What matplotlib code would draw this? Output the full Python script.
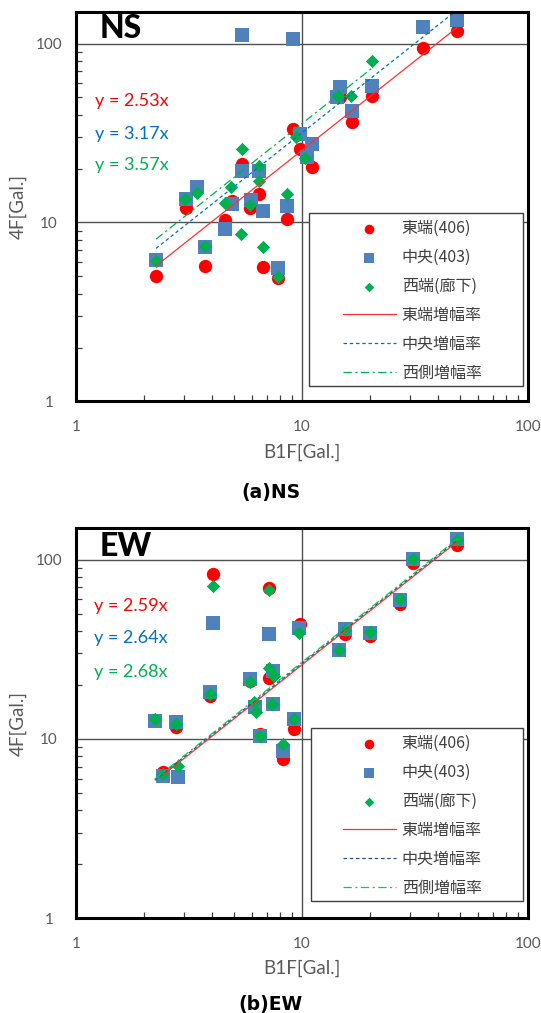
import matplotlib
matplotlib.use('Agg')
import matplotlib.pyplot as plt
from matplotlib.ticker import FixedLocator, FixedFormatter, NullFormatter
from matplotlib.patches import Rectangle
import numpy as np

plt.rcParams['lines.scale_dashes'] = False

# ---------------- data: NS ----------------
ns_east_x = [2.26, 3.07, 3.72, 4.56, 4.89, 5.41, 5.89, 6.47, 6.70, 7.8, 8.55, 9.15, 9.8, 11.1, 14.7, 16.6, 20.5, 34.2, 48.4]
ns_east_y = [5.04, 12.1, 5.73, 10.3, 13.2, 21.2, 12.1, 14.4, 5.64, 4.89, 10.5, 33.3, 25.7, 20.3, 50.2, 36.6, 50.8, 94.6, 117]
ns_cent_x = [2.26, 3.07, 3.44, 3.72, 4.56, 4.89, 5.41, 5.44, 5.95, 6.43, 6.74, 7.8, 8.55, 9.1, 9.8, 10.5, 11.1, 14.3, 14.7, 16.6, 20.5, 34.2, 48.4]
ns_cent_y = [6.2, 13.6, 15.7, 7.27, 9.25, 12.7, 112, 19.4, 13.3, 19.4, 11.6, 5.57, 12.3, 106, 31.2, 23.2, 27.4, 50, 57.1, 42.2, 57.9, 124, 135]
ns_west_x = [2.26, 3.04, 3.42, 3.72, 4.56, 4.85, 5.37, 5.44, 5.89, 6.43, 6.43, 6.7, 7.8, 8.55, 9.45, 10.3, 14.5, 16.5, 20.5]
ns_west_y = [6.1, 13.6, 14.7, 7.42, 12.9, 15.8, 8.67, 25.7, 12.5, 17.1, 20.7, 7.27, 4.95, 14.5, 29.9, 22.8, 50.8, 50.8, 80]
ns_slopes = [2.53, 3.17, 3.57]

# ---------------- data: EW ----------------
ew_east_x = [2.43, 2.8, 2.77, 3.91, 4.03, 5.89, 6.52, 7.16, 7.14, 8.27, 9.22, 9.8, 15.5, 19.9, 27.2, 31.1, 48.7]
ew_east_y = [6.53, 6.2, 11.6, 17.4, 82.6, 21.1, 10.7, 22.0, 69.5, 7.74, 11.4, 43.5, 38.3, 37.5, 56.2, 95.7, 121]
ew_cent_x = [2.23, 2.43, 2.77, 2.84, 3.91, 4.03, 5.89, 6.2, 6.52, 7.14, 7.42, 7.46, 8.27, 9.22, 9.73, 14.6, 15.5, 19.9, 27.2, 31.1, 48.7]
ew_cent_y = [12.6, 6.25, 12.4, 6.12, 18.2, 44.4, 21.5, 15.0, 10.4, 38.3, 15.6, 23.9, 8.6, 12.9, 41.7, 31.3, 40.8, 39.1, 59.9, 101, 130]
ew_west_x = [2.23, 2.43, 2.77, 2.84, 3.91, 4.03, 5.89, 6.15, 6.26, 6.52, 7.14, 7.14, 7.4, 7.52, 8.27, 9.22, 9.73, 14.6, 15.5, 19.9, 27.2, 31.1, 48.7]
ew_west_y = [12.9, 6.35, 12.1, 7.11, 17.8, 71.1, 20.8, 16.0, 14.2, 10.4, 67.5, 25.0, 15.7, 22.5, 9.38, 12.9, 39.1, 31.3, 40.6, 39.5, 60.5, 101, 128]
ew_slopes = [2.59, 2.64, 2.68]

series_labels = ['東端(406)', '中央(403)', '西端(廊下)']
line_labels = ['東端増幅率', '中央増幅率', '西側増幅率']
tick_vals = [1, 10, 100]
tick_text = ['1', '10', '100']

RED = '#FF0000'
BLUE = '#4F81BD'
GREEN = '#00B050'
EQ_COLORS = ['#FF0000', '#0070C0', '#00B050']
GRAY = '#595959'

W, H = 541, 1013
fig = plt.figure(figsize=(W / 100, H / 100), dpi=100)


def px_axes(l, t, r, b):
    return [l / W, 1 - b / H, (r - l) / W, (b - t) / H]


def panel(ax, ex, ey, cx, cy, wx, wy, slopes, title, line_colors, eq_y, eq_x,
          title_y, frame, leg_anchor):
    ax.set_xscale('log')
    ax.set_yscale('log')
    ax.set_xlim(1, 100)
    ax.set_ylim(1, 150)

    ax.scatter(ex, ey, s=9.6 ** 2, marker='o', color=RED, linewidths=0, zorder=3, label=series_labels[0])
    ax.scatter(cx, cy, s=10.5 ** 2, marker='s', color=BLUE, linewidths=0, zorder=3.1, label=series_labels[1])
    ax.scatter(wx, wy, s=6.8 ** 2, marker='D', color=GREEN, linewidths=0, zorder=3.2, label=series_labels[2])

    styles = ['-', (0, (2.5, 2.0)), (0, (6, 2.5, 1.5, 2.5))]
    xs = [ex, cx, wx]
    for i, k in enumerate(slopes):
        xr = np.array([min(xs[i]), max(xs[i])])
        ax.plot(xr, k * xr, color=line_colors[i], lw=0.9, ls=styles[i], zorder=4,
                label=line_labels[i])

    for i, k in enumerate(slopes):
        ax.text(eq_x, eq_y[i], f'y = {k:.2f}x', transform=ax.transAxes, color=EQ_COLORS[i],
                fontsize=13, family='Lato', va='center', ha='left')

    ax.text(0.053, title_y, title, transform=ax.transAxes, fontsize=23, family='Lato',
            fontweight='black', va='top', ha='left', color='black')

    ax.xaxis.set_major_locator(FixedLocator(tick_vals))
    ax.xaxis.set_major_formatter(FixedFormatter(tick_text))
    ax.yaxis.set_major_locator(FixedLocator(tick_vals))
    ax.yaxis.set_major_formatter(FixedFormatter(tick_text))
    minors = [m * 10 ** d for d in range(0, 3) for m in range(2, 10)]
    ax.xaxis.set_minor_locator(FixedLocator(minors))
    ax.yaxis.set_minor_locator(FixedLocator(minors))
    ax.xaxis.set_minor_formatter(NullFormatter())
    ax.yaxis.set_minor_formatter(NullFormatter())
    ax.tick_params(which='major', length=0, labelsize=11, labelcolor=GRAY)
    ax.tick_params(axis='x', which='major', pad=13.5)
    ax.tick_params(axis='y', which='major', pad=19.4)
    ax.tick_params(which='minor', direction='in', length=4, width=0.9, color='#404040')
    for lbl in ax.get_xticklabels() + ax.get_yticklabels():
        lbl.set_family('Lato')
    for lbl in ax.get_yticklabels():
        lbl.set_ha('center')

    ax.grid(which='major', color='#505050', lw=1.0, zorder=1)
    ax.set_axisbelow(True)
    for sp in ax.spines.values():
        sp.set_linewidth(2.2)
        sp.set_color('black')
        sp.set_zorder(6)

    ax.set_xlabel('B1F[Gal.]', fontsize=13.5, family='Lato', color=GRAY)
    ax.set_ylabel('4F[Gal.]', fontsize=13.5, family='Lato', color=GRAY)

    fx0, fy0, fx1, fy1 = frame
    ax.add_patch(Rectangle((fx0, fy0), fx1 - fx0, fy1 - fy0, transform=ax.transAxes,
                           facecolor='white', edgecolor='#404040', lw=1.0, zorder=7))
    leg = ax.legend(loc='upper left', bbox_to_anchor=leg_anchor, frameon=False,
                    borderpad=0, borderaxespad=0, markerscale=0.72,
                    handlelength=3.3, handletextpad=0.37, labelspacing=0.75,
                    prop={'family': 'Noto Sans CJK JP', 'size': 11.5})
    leg.set_zorder(8)
    for t in leg.get_texts():
        t.set_color('#404040')
    return ax


ax1 = fig.add_axes(px_axes(76, 12, 528, 401.4))
panel(ax1, ns_east_x, ns_east_y, ns_cent_x, ns_cent_y, ns_west_x, ns_west_y, ns_slopes, 'NS',
      ['#FF3030', '#0070C0', '#00B050'], [0.771, 0.686, 0.607], 0.042, 0.995,
      (0.5155, 0.0395, 0.989, 0.4838), (0.591, 0.4665))
ax1.xaxis.set_label_coords(0.5, -0.13)
ax1.xaxis.label.set_va('center')
ax1.yaxis.set_label_coords(-0.128, 0.5)
ax1.yaxis.label.set_va('center')

ax2 = fig.add_axes(px_axes(76, 528, 528, 918.3))
panel(ax2, ew_east_x, ew_east_y, ew_cent_x, ew_cent_y, ew_west_x, ew_west_y, ew_slopes, 'EW',
      ['#FF3030', '#2F4F80', '#00CC66'], [0.801, 0.718, 0.631], 0.04, 0.99,
      (0.52, 0.0443, 0.989, 0.4876), (0.591, 0.4696))
ax2.xaxis.set_label_coords(0.5, -0.128)
ax2.xaxis.label.set_va('center')
ax2.yaxis.set_label_coords(-0.128, 0.5)
ax2.yaxis.label.set_va('center')

fig.text(0.5, 1 - 492 / H, '(a)NS', ha='center', va='center', fontsize=13.5,
         family='DejaVu Sans', fontweight='bold')
fig.text(0.5, 1 - 1004 / H, '(b)EW', ha='center', va='center', fontsize=13.5,
         family='DejaVu Sans', fontweight='bold')

fig.savefig('out.png', dpi=100)
